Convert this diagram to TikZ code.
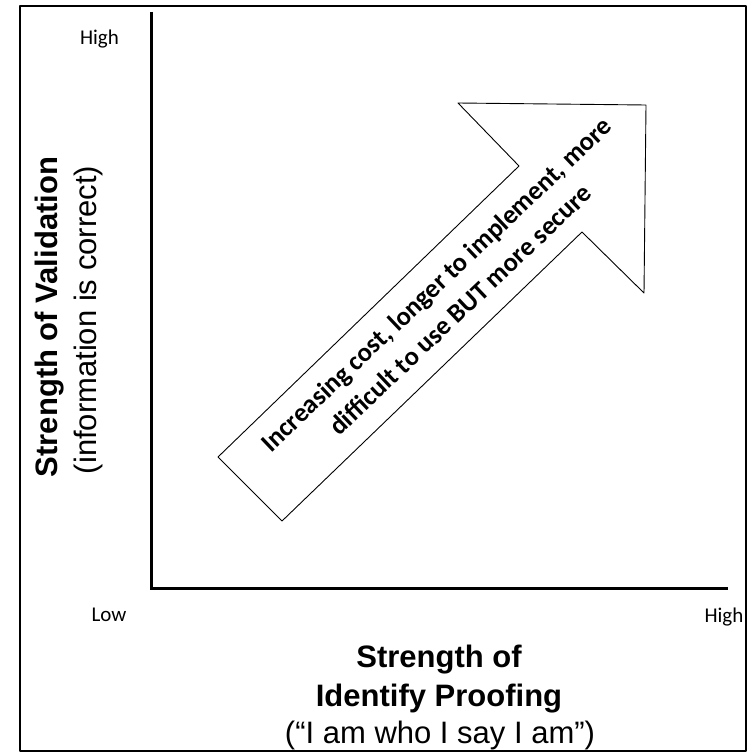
\documentclass[tikz,border=0pt]{standalone}
\usepackage{fontspec}
\newfontfamily\arialfont{Liberation Sans}
\newfontfamily\calibrifont{Carlito}
\usepackage{tikz}
\usetikzlibrary{arrows}
\usetikzlibrary{arrows.meta,calc}
\begin{document}
\begin{tikzpicture}[line cap=round,line join=round,>=triangle 45,x=1pt,y=1pt]
                \useasboundingbox (0,0) rectangle (751,-752);
                \draw [line width=1.5pt] (20,-6) rectangle (746,-751);
                \draw [line width=3pt,line cap=butt,line join=miter] (151,-12)-- (151,-588)-- (728,-588);
                \draw [line width=0.9pt,fill=white] (218,-457)-- (519,-166)-- (458,-103)-- (646,-105)-- (644,-293)-- (582,-232)-- (282,-521)-- cycle;
                \draw[color=black] (448,-297) node[rotate=43.5,align=center,inner sep=0pt,font=\calibrifont\bfseries\fontsize{26.5}{35}\selectfont] (arrowtext) {Increasing cost, longer to implement, more\\difficult to use BUT more secure};
                \begin{scope}[font=\calibrifont\fontsize{21}{24}\selectfont]
                    \draw[color=black] (99.5,-45) node[anchor=base] (yhigh) {High};
                    \draw[color=black] (109,-621) node[anchor=base] (xlow) {Low};
                    \draw[color=black] (724,-622) node[anchor=base] (xhigh) {High};
                \end{scope}
                \begin{scope}[font=\arialfont\fontsize{31}{37}\selectfont]
                    \draw[color=black] (50,-317) node[rotate=90,inner sep=0pt] (ytitle) {\bfseries Strength of Validation};
                    \draw[color=black] (88,-320) node[rotate=90,inner sep=0pt] (ysub) {(information is correct)};
                    \draw[color=black] (439,-667) node[anchor=base] (xtitle) {\bfseries Strength of};
                    \draw[color=black] (439,-706) node[anchor=base] (xtitletwo) {\bfseries Identify Proofing};
                    \draw[color=black] (440,-743) node[anchor=base] (xsub) {(“I am who I say I am”)};
                \end{scope}
            \end{tikzpicture}
\end{document}
